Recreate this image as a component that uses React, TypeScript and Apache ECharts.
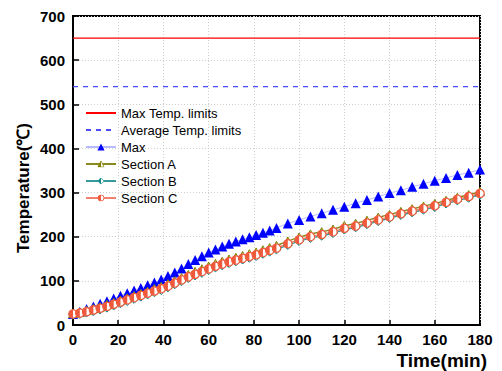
import React, { useEffect, useRef } from "react";
import * as echarts from "echarts";

const xTicks = [0, 20, 40, 60, 80, 100, 120, 140, 160, 180];
const yTicks = [0, 100, 200, 300, 400, 500, 600, 700];
const limitTimes = [0, 180];
const maxLimit = [650, 650];
const avgLimit = [540, 540];
const times = [0, 3, 6, 9, 12, 15, 18, 21, 24, 27, 30, 33, 36, 39, 42, 45, 48, 51, 54, 57, 60, 63, 66, 69, 72, 75, 78, 81, 84, 87, 90,
  95, 100, 105, 110, 115, 120, 125, 130, 135, 140, 145, 150, 155, 160, 165, 170, 175, 180];
const maxTemp = [25, 30, 36, 42, 48, 54, 60, 66, 72, 78, 84, 90, 96, 103, 111, 119, 128, 138, 147, 156, 164, 171, 178, 184, 189, 194, 199, 204, 209, 214, 220,
  230, 238, 246, 253, 261, 268, 276, 283, 291, 299, 305, 313, 320, 327, 333, 340, 345, 352];
const sectionA = [26, 29, 33, 37, 41, 46, 51, 56, 61, 66, 71, 76, 82, 87, 93, 100, 107, 114, 121, 127, 133, 139, 144, 149, 153, 157, 161, 165, 170, 175, 180,
  190, 199, 206, 211, 217, 225, 230, 237, 244, 250, 257, 263, 269, 275, 282, 289, 295, 302];
const sectionB = [23, 25, 28, 31, 35, 39, 44, 49, 54, 59, 64, 69, 74, 79, 85, 92, 99, 106, 112, 118, 124, 130, 135, 140, 144, 148, 152, 156, 161, 166, 171,
  181, 190, 197, 202, 208, 216, 221, 228, 235, 242, 249, 255, 261, 267, 275, 282, 288, 295];
const sectionC = [25, 27, 30, 34, 38, 42, 47, 52, 57, 62, 67, 72, 77, 82, 88, 95, 102, 109, 115, 121, 127, 133, 138, 143, 147, 151, 155, 159, 164, 169, 174,
  184, 193, 200, 205, 211, 219, 224, 231, 238, 245, 252, 258, 264, 270, 278, 285, 291, 298];

const pair = (xs: number[], ys: number[]) => xs.map((x, i) => [x, ys[i]]);

const svgUri = (body: string) =>
  "image://data:image/svg+xml;charset=utf-8," +
  encodeURIComponent(`<svg xmlns="http://www.w3.org/2000/svg" width="20" height="20" viewBox="0 0 10 10">${body}</svg>`);

const triHalf = (c: string) =>
  svgUri(`<polygon points="5,0.8 9.4,9.2 0.6,9.2" fill="#fff" stroke="${c}" stroke-width="1"/><polygon points="5,0.8 5,9.2 0.6,9.2" fill="${c}"/>`);
const diaHalf = (c: string) =>
  svgUri(`<polygon points="5,0.6 9.4,5 5,9.4 0.6,5" fill="#fff" stroke="${c}" stroke-width="1"/><polygon points="5,0.6 5,9.4 0.6,5" fill="${c}"/>`);
const cirHalf = (c: string) =>
  svgUri(`<circle cx="5" cy="5" r="4.2" fill="#fff" stroke="${c}" stroke-width="1.2"/><path d="M5,0.8 A4.2,4.2 0 0 0 5,9.2 Z" fill="${c}"/>`);

export default function App() {
  const ref = useRef<HTMLDivElement>(null);
  useEffect(() => {
    if (!ref.current) return;
    const chart = echarts.init(ref.current, null, { renderer: "svg" });
    const labelFont = { fontFamily: "Liberation Sans, Arial, sans-serif", fontWeight: "bold" as const, fontSize: 15, color: "#000" };
    chart.setOption({
      animation: false,
      backgroundColor: "#fff",
      grid: { left: 73, right: 22, top: 16, bottom: 46, show: true, borderColor: "#000", borderWidth: 2, backgroundColor: "transparent" },
      xAxis: {
        type: "value",
        min: xTicks[0],
        max: xTicks[xTicks.length - 1],
        interval: 20,
        axisLine: { lineStyle: { color: "#000", width: 2 } },
        axisTick: { inside: true, length: 5, lineStyle: { color: "#000", width: 1.5 } },
        axisLabel: { ...labelFont, margin: 7 },
        splitLine: { show: true, lineStyle: { color: "#cfcfcf", type: [1, 2], width: 1 } },
      },
      yAxis: {
        type: "value",
        min: yTicks[0],
        max: yTicks[yTicks.length - 1],
        interval: 100,
        axisLine: { show: true, lineStyle: { color: "#000", width: 2 } },
        axisTick: { show: true, inside: true, length: 6, lineStyle: { color: "#000", width: 1.5 } },
        axisLabel: { ...labelFont, margin: 8 },
        splitLine: { show: true, lineStyle: { color: "#cfcfcf", type: [1, 2], width: 1 } },
      },
      legend: {
        orient: "vertical",
        left: 85,
        top: 106,
        padding: 0,
        itemWidth: 30,
        itemHeight: 9,
        itemGap: 3,
        textStyle: { fontFamily: "Liberation Sans, Arial, sans-serif", fontSize: 13, color: "#000", lineHeight: 14 },
        data: [
          { name: "Max Temp. limits", itemStyle: { opacity: 0 } },
          { name: "Average Temp. limits", itemStyle: { opacity: 0 } },
          "Max",
          "Section A",
          "Section B",
          "Section C",
        ],
      },
      graphic: [
        {
          type: "text",
          x: 23,
          y: 188,
          rotation: Math.PI / 2,
          style: {
            text: "Temperature(℃)",
            fontFamily: "Liberation Sans, Arial, sans-serif",
            fontWeight: "bold",
            fontSize: 17,
            fill: "#000",
            align: "center",
            verticalAlign: "middle",
          },
        },
        {
          type: "text",
          x: 487,
          y: 360,
          style: {
            text: "Time(min)",
            fontFamily: "Liberation Sans, Arial, sans-serif",
            fontWeight: "bold",
            fontSize: 19,
            fill: "#000",
            align: "right",
            verticalAlign: "middle",
          },
        },
      ],
      series: [
        {
          name: "Max Temp. limits",
          type: "line",
          symbol: "none",
          data: pair(limitTimes, maxLimit),
          lineStyle: { color: "#ff0000", width: 1.2 },
          itemStyle: { color: "#ff0000" },
        },
        {
          name: "Average Temp. limits",
          type: "line",
          symbol: "none",
          data: pair(limitTimes, avgLimit),
          lineStyle: { color: "#4a4aff", width: 1.3, type: [5, 5] },
          itemStyle: { color: "#4a4aff" },
        },
        {
          name: "Max",
          type: "line",
          symbol: "triangle",
          symbolSize: 10,
          data: pair(times, maxTemp),
          lineStyle: { color: "#b8bcff", width: 1 },
          itemStyle: { color: "#0000ff" },
        },
        {
          name: "Section A",
          type: "line",
          symbol: triHalf("#808000"),
          symbolSize: 10,
          data: pair(times, sectionA),
          lineStyle: { color: "#8a8a20", width: 1.5 },
          itemStyle: { color: "#808000" },
        },
        {
          name: "Section B",
          type: "line",
          symbol: diaHalf("#138a8a"),
          symbolSize: 10,
          data: pair(times, sectionB),
          lineStyle: { color: "#3a9a9a", width: 1.5 },
          itemStyle: { color: "#138a8a" },
        },
        {
          name: "Section C",
          type: "line",
          symbol: cirHalf("#f05a3c"),
          symbolSize: 10,
          data: pair(times, sectionC),
          lineStyle: { color: "#f08070", width: 1.5 },
          itemStyle: { color: "#f05a3c" },
        },
      ],
    });
    return () => chart.dispose();
  }, []);
  return <div ref={ref} style={{ width: 502, height: 371, position: "absolute", left: 0, top: 0 }} />;
}
